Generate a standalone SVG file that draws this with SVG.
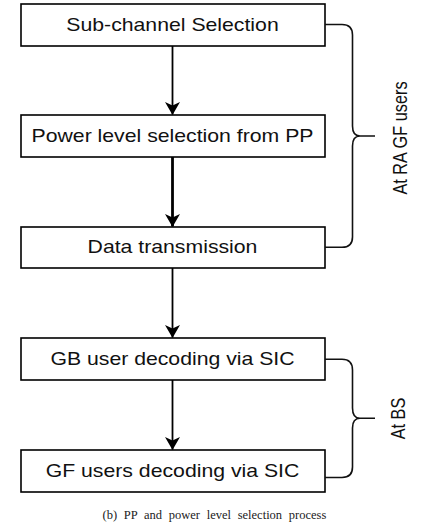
<svg xmlns="http://www.w3.org/2000/svg" width="430" height="527" viewBox="0 0 430 527">
  <style>
    .box { fill: #ffffff; stroke: #000000; stroke-width: 1.6; }
    .label { font-family: "Liberation Sans", Arial, sans-serif; font-size: 18px; fill: #111111; text-anchor: middle; }
    .side { font-family: "Liberation Sans", Arial, sans-serif; font-size: 16.3px; fill: #111111; text-anchor: middle; }
    .flow { fill: none; stroke: #000000; stroke-width: 1.8; }
    .flow.bold { stroke-width: 2.8; }
    .brace { fill: none; stroke: #111111; stroke-width: 1.6; stroke-linejoin: round; }
    .caption { font-family: "Liberation Serif", "Times New Roman", serif; font-size: 12.5px; fill: #222222; text-anchor: middle; word-spacing: 3.6px; }
  </style>
  <defs>
    <marker id="head" viewBox="0 0 13 15" refX="12.5" refY="7.5" markerWidth="13" markerHeight="15" markerUnits="userSpaceOnUse" orient="auto">
      <path d="M0,0 L13,7.5 L0,15 L3.5,7.5 Z" fill="#000000"/>
    </marker>
  </defs>

  <rect width="430" height="527" fill="#ffffff"/>

  <!-- flow connectors -->
  <g id="connectors">
    <line class="flow" x1="172.5" y1="46" x2="172.5" y2="114.5" marker-end="url(#head)"/>
    <line class="flow bold" x1="172.5" y1="157" x2="172.5" y2="226.5" marker-end="url(#head)"/>
    <line class="flow" x1="172.5" y1="268" x2="172.5" y2="337.5" marker-end="url(#head)"/>
    <line class="flow" x1="172.5" y1="380" x2="172.5" y2="449.5" marker-end="url(#head)"/>
  </g>

  <g id="subchannel">
    <rect class="box" x="21" y="4" width="304" height="42"/>
    <text class="label" transform="translate(172.5,30.7) scale(1.18,1)">Sub-channel Selection</text>
  </g>

  <g id="power-level">
    <rect class="box" x="21" y="115" width="304" height="42"/>
    <text class="label" transform="translate(172.5,141.8) scale(1.18,1)">Power level selection from PP</text>
  </g>

  <g id="data-tx">
    <rect class="box" x="21" y="227" width="304" height="41"/>
    <text class="label" transform="translate(172.5,253.2) scale(1.18,1)">Data transmission</text>
  </g>

  <g id="gb-decoding">
    <rect class="box" x="21" y="338" width="304" height="42"/>
    <text class="label" transform="translate(172.5,365) scale(1.18,1)">GB user decoding via SIC</text>
  </g>

  <g id="gf-decoding">
    <rect class="box" x="21" y="450" width="304" height="42"/>
    <text class="label" transform="translate(172.5,476.7) scale(1.18,1)">GF users decoding via SIC</text>
  </g>

  <!-- grouping braces -->
  <g id="brace-users">
    <path class="brace" d="M325,24.5 H342 Q352.5,24.5 352.5,35 V126 Q352.5,136 360,136 H375 M360,136 Q352.5,136 352.5,146 V237 Q352.5,247.3 342,247.3 H325"/>
    <text class="side" transform="translate(406.5,138) scale(1.28,1) rotate(-90)">At RA GF users</text>
  </g>

  <g id="brace-bs">
    <path class="brace" d="M325,359.3 H342 Q352.5,359.3 352.5,370 V408 Q352.5,418.3 360,418.3 H375 M360,418.3 Q352.5,418.3 352.5,428 V467 Q352.5,477.5 342,477.5 H325"/>
    <text class="side" transform="translate(405,418.5) scale(1.28,1) rotate(-90)">At BS</text>
  </g>

  <text class="caption" x="214.4" y="519">(b) PP and power level selection process</text>
</svg>
